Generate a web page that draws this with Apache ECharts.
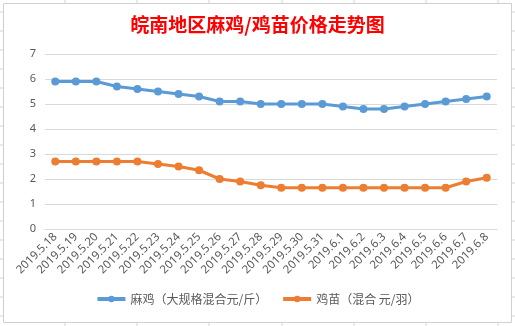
<!DOCTYPE html>
<html><head><meta charset="utf-8">
<script src="https://cdn.jsdelivr.net/npm/echarts@6/dist/echarts.min.js"></script>
<style>html,body{margin:0;padding:0;background:#fff}#c{width:515px;height:326px}</style>
</head><body><div id="c"></div>
<script>
const categories = ['2019.5.18','2019.5.19','2019.5.20','2019.5.21','2019.5.22','2019.5.23','2019.5.24','2019.5.25','2019.5.26','2019.5.27','2019.5.28','2019.5.29','2019.5.30','2019.5.31','2019.6.1','2019.6.2','2019.6.3','2019.6.4','2019.6.5','2019.6.6','2019.6.7','2019.6.8'];
const maji = [5.9,5.9,5.9,5.7,5.6,5.5,5.4,5.3,5.1,5.1,5.0,5.0,5.0,5.0,4.9,4.8,4.8,4.9,5.0,5.1,5.2,5.3];
const jimiao = [2.7,2.7,2.7,2.7,2.7,2.6,2.5,2.35,2.0,1.9,1.75,1.65,1.65,1.65,1.65,1.65,1.65,1.65,1.65,1.65,1.9,2.05];
const seriesNames = ['麻鸡（大规格混合元/斤）','鸡苗（混合 元/羽）'];
const titleText = '皖南地区麻鸡/鸡苗价格走势图';

const chart = echarts.init(document.getElementById('c'), null, {renderer:'canvas'});
const sheetLines = [];
[65,137,209,282,354,426,498].forEach(x=>sheetLines.push({type:'line',shape:{x1:x,y1:0,x2:x,y2:3},style:{stroke:'#d4d4d4',lineWidth:1},silent:true}));
[65,137,209,282,354,426,498].forEach(x=>sheetLines.push({type:'line',shape:{x1:x,y1:323,x2:x,y2:326},style:{stroke:'#d4d4d4',lineWidth:1},silent:true}));
[12,31,50,69,88,107,126,145,164,183,202,221,240,259,278,297,316].forEach(y=>{
  sheetLines.push({type:'line',shape:{x1:512,y1:y,x2:515,y2:y},style:{stroke:'#d4d4d4',lineWidth:1},silent:true});
  sheetLines.push({type:'line',shape:{x1:0,y1:y,x2:3,y2:y},style:{stroke:'#d4d4d4',lineWidth:1},silent:true});
});
sheetLines.push({type:'rect',shape:{x:3.5,y:3.5,width:508,height:319},style:{fill:'none',stroke:'#d0d0d0',lineWidth:1},silent:true});

chart.setOption({
  animation:false,
  backgroundColor:'#fff',
  graphic: sheetLines,
  title:{text:titleText,left:'center',top:10,textStyle:{color:'#ff0000',fontSize:19,fontWeight:'bold',fontFamily:'Noto Sans CJK SC'}},
  legend:{bottom:16,left:'center',itemWidth:28,itemHeight:8,itemGap:14,
    lineStyle:{width:4},
    textStyle:{color:'#595959',fontSize:12,fontFamily:'Noto Sans CJK SC'},
    data:seriesNames},
  grid:{left:45,right:18,top:54,bottom:97,containLabel:false},
  xAxis:{type:'category',data:categories,boundaryGap:true,
    axisLine:{show:true,lineStyle:{color:'#d9d9d9'}},axisTick:{show:false},
    axisLabel:{rotate:45,interval:0,color:'#595959',fontSize:11.5,fontFamily:'Noto Sans',margin:6}},
  yAxis:{type:'value',min:0,max:7,interval:1,
    axisLine:{show:false},axisTick:{show:false},
    splitLine:{lineStyle:{color:'#d9d9d9'}},
    axisLabel:{color:'#595959',fontSize:11,fontFamily:'Noto Sans',margin:9}},
  series:[
    {name:seriesNames[0],type:'line',data:maji,symbol:'circle',symbolSize:8,
      lineStyle:{width:3,color:'#5B9BD5'},itemStyle:{color:'#5B9BD5'}},
    {name:seriesNames[1],type:'line',data:jimiao,symbol:'circle',symbolSize:8,
      lineStyle:{width:3,color:'#ED7D31'},itemStyle:{color:'#ED7D31'}}
  ]
});
</script></body></html>
